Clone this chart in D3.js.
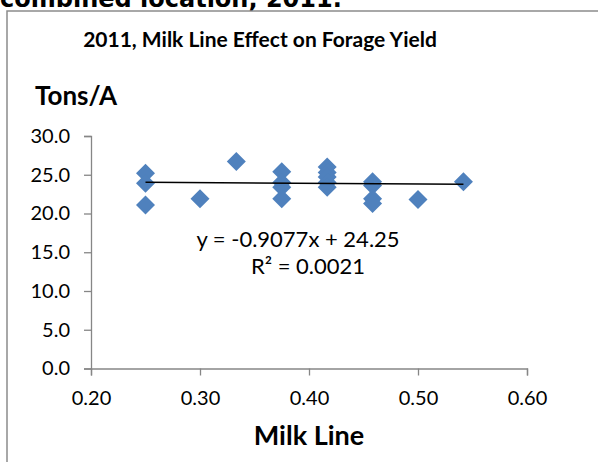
<!DOCTYPE html>
<html>
<head>
<meta charset="utf-8">
<script src="https://cdn.jsdelivr.net/npm/d3@7"></script>
<style>
  body { margin: 0; background: #fff; }
  svg { display: block; }
</style>
</head>
<body>
<svg id="chart" width="598" height="462"></svg>
<script>
// milk line stage (x) and forage yield in tons/acre (y)
const milkLine = [0.25, 0.25, 0.25, 0.30, 0.3333, 0.375, 0.375, 0.375, 0.375,
  0.4167, 0.4167, 0.4167, 0.4167, 0.4167, 0.4583, 0.4583, 0.4583, 0.4583, 0.50, 0.5417];
const yieldTons = [25.2, 23.9, 21.1, 21.9, 26.7, 25.4, 24.0, 23.4, 21.9,
  26.0, 25.3, 24.7, 24.0, 23.4, 24.1, 23.6, 21.9, 21.3, 21.8, 24.1];

// linear trendline from the chart
const trendSlope = -0.9077;
const trendIntercept = 24.25;
const equationLines = ["y = -0.9077x + 24.25", "R² = 0.0021"];

const xTicks = [0.2, 0.3, 0.4, 0.5, 0.6];
const yTicks = [0, 5, 10, 15, 20, 25, 30];

const svg = d3.select("#chart");
const font = "Lato, 'Open Sans', sans-serif";
const axisColor = "#868686";

const x = d3.scaleLinear().domain([0.2, 0.6]).range([91, 527]);
const y = d3.scaleLinear().domain([0, 30]).range([368.5, 136]);

// heading from the page above, cut off by the top edge
svg.append("text")
  .attr("x", 0)
  .attr("y", 7)
  .text("combined location, 2011.")
  .style("font-family", "'DejaVu Sans', sans-serif")
  .style("font-weight", "bold")
  .style("font-size", "24px");

// chart frame (only top and left are inside the picture)
svg.append("path")
  .attr("d", "M7,470 L7,11 L600,11")
  .style("fill", "none")
  .style("stroke", "#8c8c8c")
  .style("stroke-width", 1.5);

svg.append("text")
  .attr("x", 260)
  .attr("y", 47)
  .attr("text-anchor", "middle")
  .text("2011, Milk Line Effect on Forage Yield")
  .style("font-family", font)
  .style("font-weight", "bold")
  .style("font-size", "21px");

svg.append("text")
  .attr("x", 35)
  .attr("y", 105)
  .text("Tons/A")
  .style("font-family", font)
  .style("font-weight", "bold")
  .style("font-size", "26px");

// axes
const yAxis = svg.append("g")
  .attr("transform", `translate(${x(0.2)},0)`)
  .call(d3.axisLeft(y).tickValues(yTicks).tickFormat(d3.format(".1f")).tickSizeOuter(0).tickSize(7).tickPadding(14));

const xAxis = svg.append("g")
  .attr("transform", `translate(0,${y(0)})`)
  .call(d3.axisBottom(x).tickValues(xTicks).tickFormat(d3.format(".2f")).tickSizeOuter(0).tickSize(7).tickPadding(15));

[xAxis, yAxis].forEach((g) => {
  g.selectAll("path, line").style("stroke", axisColor).style("stroke-width", 1.3);
  g.selectAll("text")
    .style("font-family", font)
    .style("font-size", "20px")
    .style("fill", "#000");
});

svg.append("text")
  .attr("x", 309)
  .attr("y", 445)
  .attr("text-anchor", "middle")
  .text("Milk Line")
  .style("font-family", font)
  .style("font-weight", "bold")
  .style("font-size", "27px");

// diamonds
const r = 9.5;
svg.append("g")
  .selectAll("path")
  .data(milkLine)
  .enter()
  .append("path")
  .attr("transform", (d, i) => `translate(${x(d)},${y(yieldTons[i])})`)
  .attr("d", `M0,${-r} L${r},0 L0,${r} L${-r},0 Z`)
  .style("fill", "#4f81bd");

// trendline across the data range
const xExtent = d3.extent(milkLine);
svg.append("line")
  .attr("x1", x(xExtent[0]))
  .attr("y1", y(trendSlope * xExtent[0] + trendIntercept))
  .attr("x2", x(xExtent[1]))
  .attr("y2", y(trendSlope * xExtent[1] + trendIntercept))
  .style("stroke", "#000")
  .style("stroke-width", 1.5);

svg.append("text")
  .attr("x", 298)
  .attr("y", 247)
  .attr("text-anchor", "middle")
  .text(equationLines[0])
  .style("font-family", font)
  .style("font-size", "22px");

svg.append("text")
  .attr("x", 308)
  .attr("y", 274)
  .attr("text-anchor", "middle")
  .text(equationLines[1])
  .style("font-family", font)
  .style("font-size", "22px");
</script>
</body>
</html>
